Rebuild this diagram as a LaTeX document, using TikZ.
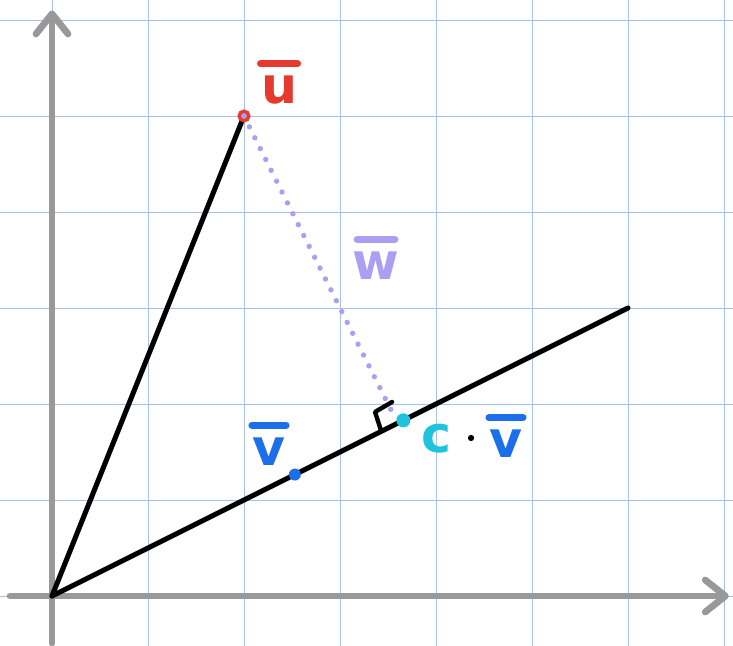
\documentclass[tikz,border=0pt]{standalone}
\usepackage{fontspec}
\newfontfamily\lblfont{DejaVu Sans}
\usetikzlibrary{arrows.meta,calc}
\definecolor{gridc}{HTML}{A9C0E6}
\definecolor{axisc}{HTML}{999999}
\definecolor{ured}{HTML}{E63A2E}
\definecolor{lav}{HTML}{AC9EF2}
\definecolor{vblue}{HTML}{1B6FEA}
\definecolor{pcyan}{HTML}{1FC3DD}
\begin{document}
\begin{tikzpicture}[x=1cm,y=1cm,
 gridline/.style={gridc, line width=0.28pt},
 axis/.style={draw=axisc, line width=2pt, line cap=round, -{Straight Barb[length=6pt,width=9.5pt,round]}},
 vec/.style={line width=1.5pt, black, line cap=round},
 lbl/.style={inner sep=0pt, font=\lblfont\bfseries\fontsize{15}{15}\selectfont},
 bar/.style={line width=2pt, line cap=round},
 dotn/.style={circle, inner sep=0pt},
]
\useasboundingbox (-0.5417,-0.5208) rectangle (7.0938,6.2083);
\foreach \x in {0,...,7} \draw[gridline] (\x,-0.6) -- (\x,6.3);
\foreach \y in {0,...,6} \draw[gridline] (-0.6,\y) -- (7.2,\y);
% axes
\coordinate (O) at (0,0);
\coordinate (xs) at (-0.4375,0);
\coordinate (xe) at (7.05,0);
\coordinate (ys) at (0,-0.49);
\coordinate (ye) at (0,6.1);
\draw[axis] (xs) -- (xe);
\draw[axis] (ys) -- (ye);
% vectors
\coordinate (U) at (2,5);
\coordinate (E) at (6,3);
\coordinate (P) at (3.6,1.8);
\draw[vec] (O) -- (U);
\draw[vec] (O) -- (E);
% dotted w
\draw[lav, line width=1.6pt, line cap=round, dash pattern=on 0pt off 3.6pt] (U) -- ($(U)!0.96!(P)$);
% right angle marker
\coordinate (ra1) at (3.43,1.715);
\coordinate (ra2) at (3.365,1.917);
\coordinate (ra3) at (3.542,2.021);
\draw[line width=1.3pt, line cap=round, line join=round] (ra1) -- (ra2) -- (ra3);
% points
\node[dotn, draw=ured, fill=lav, line width=1pt, minimum size=0.1cm] (udot) at (U) {};
\node[dotn, fill=vblue, minimum size=0.125cm] (vdot) at (2.53,1.265) {};
\node[dotn, fill=pcyan, minimum size=0.146cm] (pdot) at (3.66,1.83) {};
% labels
\node[lbl, ured] (ul) at (2.365,5.266) {u};
\draw[bar, ured] ([yshift=3.5pt]ul.north west) -- ([yshift=3.5pt]ul.north east);
\node[lbl, lav] (wl) at (3.375,3.4375) {w};
\draw[bar, lav] ([yshift=3.5pt,xshift=1.5pt]wl.north west) -- ([yshift=3.5pt,xshift=-1.5pt]wl.north east);
\node[lbl, vblue] (vl) at (2.26,1.505) {v};
\draw[bar, vblue] ([yshift=3.5pt]vl.north west) -- ([yshift=3.5pt]vl.north east);
\node[lbl, pcyan] (cl) at (4.0,1.635) {c};
\node[dotn, fill=black, minimum size=0.065cm] (cdot) at (4.365,1.646) {};
\node[lbl, vblue] (cvl) at (4.729,1.583) {v};
\draw[bar, vblue] ([yshift=3.5pt]cvl.north west) -- ([yshift=3.5pt]cvl.north east);
\end{tikzpicture}
\end{document}
